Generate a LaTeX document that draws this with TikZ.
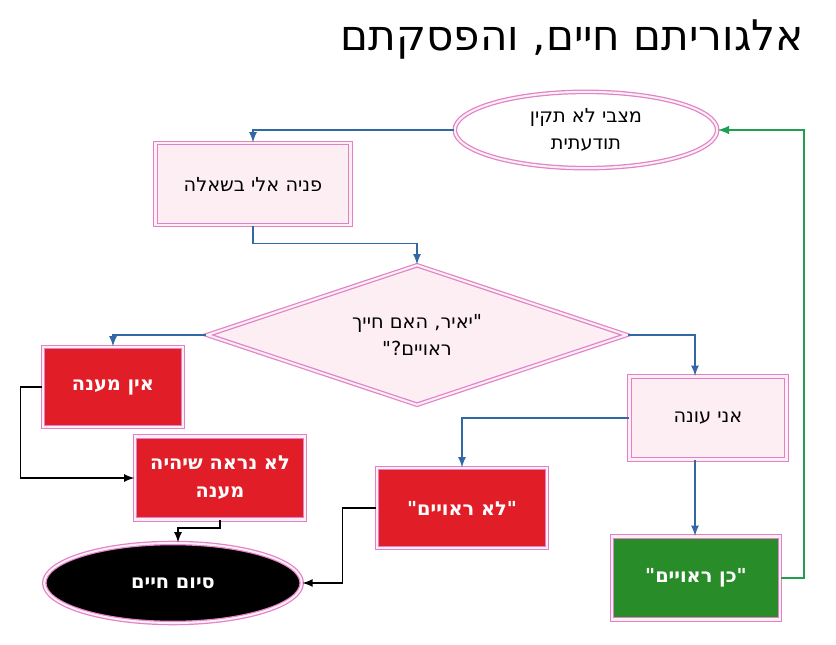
\documentclass[tikz,border=0pt]{standalone}
\usepackage{fontspec}
\setmainfont{DejaVu Sans}[Ligatures=TeXOff]
\usetikzlibrary{shapes.geometric,calc}
\TeXXeTstate=1
\newcommand{\heb}[1]{\beginR#1\endR}
\newcommand{\qt}{\char"22\relax}
\definecolor{flowpink}{RGB}{225,130,200}
\definecolor{flowpale}{RGB}{252,238,242}
\definecolor{flowred}{RGB}{225,30,40}
\definecolor{flowgreen}{RGB}{40,140,40}
\definecolor{flowblue}{RGB}{50,105,165}
\definecolor{flowarrow}{RGB}{30,160,80}
\tikzset{
  frame/.style={draw=flowpink,double=flowpale,double distance=1.2pt,line width=.7pt,
    font=\fontsize{11}{15}\selectfont,align=center},
  pale/.style={frame,rectangle,fill=flowpale,minimum width=3.9cm,minimum height=1.64cm},
  alarm/.style={frame,rectangle,fill=flowred,text=white,font=\fontsize{11}{16}\selectfont\bfseries},
  link/.style={draw=flowblue,line width=1pt,-latex},
  stop/.style={draw=black,line width=1pt,-latex}
}
\begin{document}
\begin{tikzpicture}[x=0.02cm,y=-0.02cm]
  \useasboundingbox (0,0) rectangle (836,645);
  % title
  \node[anchor=east,font=\fontsize{24}{28}\selectfont] (title) at(810,40){\heb{אלגוריתם חיים, והפסקתם}};
  % shapes
  \node[frame,ellipse,fill=white,minimum width=5.25cm,minimum height=1.22cm] (state) at(586,130){\heb{מצבי לא תקין}\\\heb{תודעתית}};
  \node[pale] (ask) at(253,184){\heb{פניה אלי בשאלה}};
  \node[frame,diamond,fill=flowpale,aspect=3,minimum width=8.4cm,minimum height=2.8cm,inner sep=0pt] (question) at(417,335){\heb{\qt יאיר, האם חייך}\\\heb{ראויים?\qt}};
  \node[alarm,minimum width=2.8cm,minimum height=1.6cm] (none) at(113,387){\heb{אין מענה}};
  \node[alarm,minimum width=3.4cm,minimum height=1.66cm] (unlikely) at(220,478){\heb{לא נראה שיהיה}\\\heb{מענה}};
  \node[frame,ellipse,fill=black,text=white,font=\fontsize{11}{15}\selectfont\bfseries,minimum width=5.15cm,minimum height=1.6cm] (end) at(173,583){\heb{סיום חיים}};
  \node[pale,minimum width=3.14cm,minimum height=1.66cm] (answer) at(708,418){\heb{אני עונה}};
  \node[alarm,minimum width=3.4cm,minimum height=1.6cm] (no) at(462,508){\heb{\qt לא ראויים\qt}};
  \node[alarm,fill=flowgreen,minimum width=3.36cm,minimum height=1.66cm] (yes) at(696,578){\heb{\qt כן ראויים\qt}};
  % blue connectors
  \draw[link] (state.west) -| (ask.north);
  \draw[link] (ask.south) -- ++(0,18) -| (question.north);
  \draw[link] (question.west) -| (none.north);
  \draw[link] (question.east) -| ($(answer.north)+(-13,0)$);
  \draw[link] (answer.west) -| (no.north);
  \draw[link] ($(answer.south)+(-13,0)$) -- ($(yes.north)+(-1,0)$);
  % green loop
  \draw[draw=flowarrow,line width=1.2pt,-latex] (yes.east) -- ++(23,0) |- (state.east);
  % black connectors
  \draw[stop] (none.west) -- ++(-22,0) |- (unlikely.west);
  \draw[stop] (unlikely.south) -- ++(0,8) -| ($(end.north)+(5,0)$);
  \draw[stop] (no.west) -- ++(-34,0) |- (end.east);
\end{tikzpicture}
\end{document}
